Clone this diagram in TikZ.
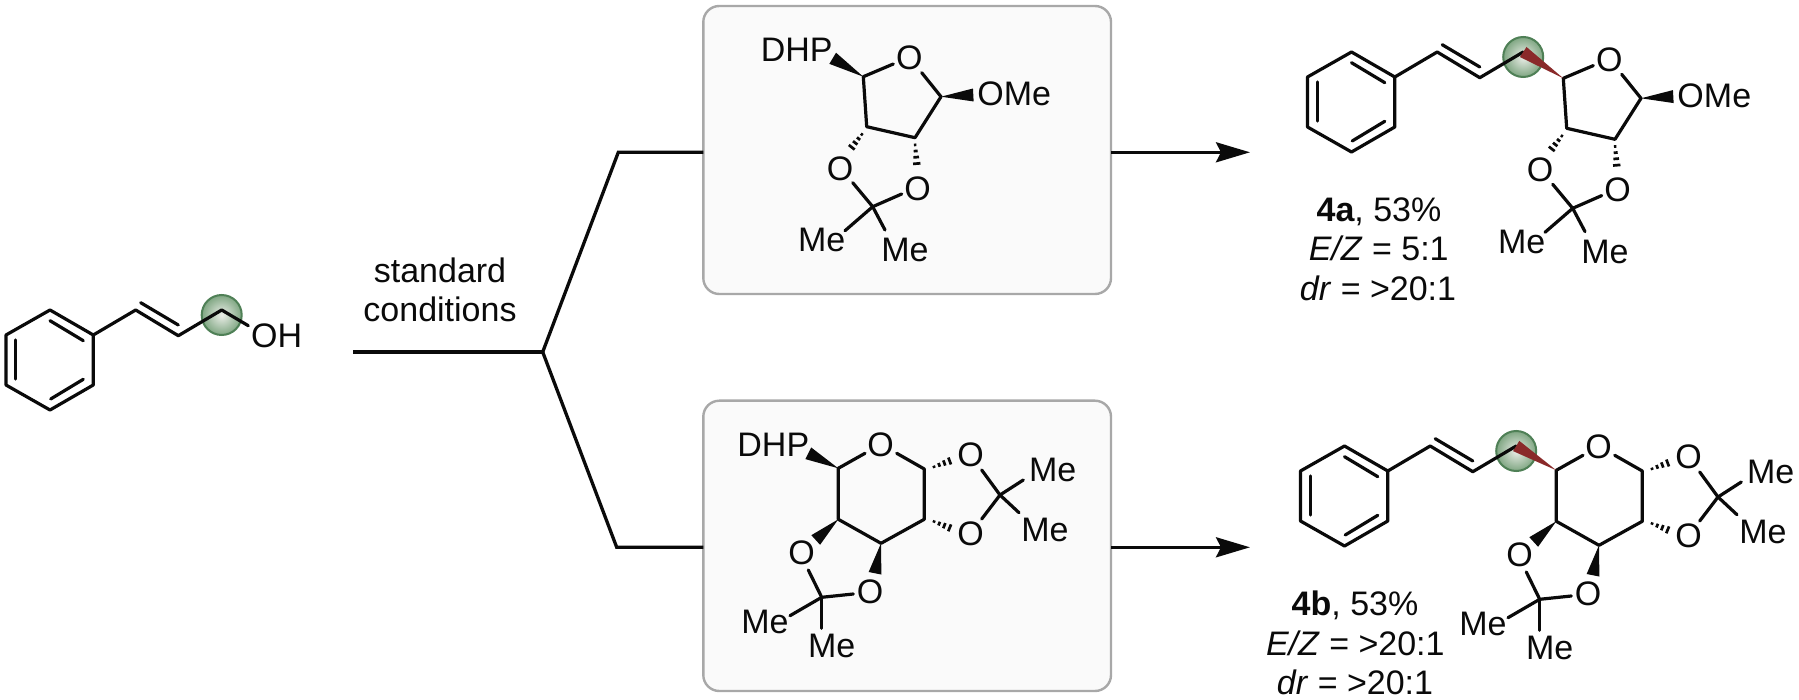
\documentclass[tikz,border=0pt]{standalone}
\usepackage{fontspec}
\setmainfont{Liberation Sans}
\usetikzlibrary{calc,arrows.meta,shadings}
\definecolor{ballin}{HTML}{EBEEE8}
\definecolor{ballout}{HTML}{7FA682}
\definecolor{ballrim}{HTML}{4F8056}
\definecolor{redbond}{HTML}{8A2A2A}
\definecolor{boxfill}{HTML}{FAFAFA}
\definecolor{boxline}{HTML}{A8A8A8}
\definecolor{ink}{HTML}{0A0A0A}
\tikzset{
  bond/.style={draw=ink,line width=3.2pt,line cap=round,line join=round},
  flow/.style={draw=ink,line width=3.3pt,line join=miter},
  atom/.style={inner sep=0pt,outer sep=0pt,text=ink,font=\fontsize{34}{39}\selectfont},
  caption/.style={inner sep=0pt,outer sep=0pt,text=ink,anchor=base,font=\fontsize{34}{39}\selectfont},
  panel/.style={draw=boxline,fill=boxfill,line width=2.4pt,rounded corners=16pt,inner sep=0pt,outer sep=0pt},
  site/.style={draw=ballrim,line width=2pt,inner color=ballin,outer color=ballout},
}
% wedge: narrow at #1, wide at #2, width #3, colour #4
\newcommand{\wedgeB}[4]{\fill[#4] (#1) -- ($(#2)!#3/2!90:(#1)$) -- ($(#2)!#3/2!-90:(#1)$) -- cycle;}
% hashed wedge: narrow at #1, wide at #2
\newcommand{\hashB}[2]{\foreach \t/\l in {0.06/1.2,0.29/2.0,0.52/2.8,0.76/3.7,1.0/4.6}{
  \draw[draw=ink,line width=2.7pt] ($(#1)!\t!(#2)!\l pt!90:(#2)$) -- ($(#1)!\t!(#2)!\l pt!-90:(#2)$);}}
% phenyl + E-alkene + CH2 with marked site
\newcommand{\styryl}{
  \shade[site] (221.7,315) circle (20);
  \coordinate (a1) at (50,310); \coordinate (a2) at (93.3,335); \coordinate (a3) at (93.3,385);
  \coordinate (a4) at (50,410); \coordinate (a5) at (6,385); \coordinate (a6) at (6,335);
  \coordinate (d1s) at (50,320.7); \coordinate (d1e) at (83.3,340.7);
  \coordinate (d2s) at (15.7,340); \coordinate (d2e) at (15.7,379);
  \coordinate (d3s) at (50.7,399); \coordinate (d3e) at (83.3,379.3);
  \coordinate (v1) at (135.7,310); \coordinate (v2) at (178.3,335.7);
  \coordinate (d4s) at (140.7,302.7); \coordinate (d4e) at (178.3,325);
  \coordinate (ch2) at (221.7,310);
  \draw[bond] (a1) -- (a2) -- (a3) -- (a4) -- (a5) -- (a6) -- cycle;
  \draw[bond] (d1s) -- (d1e);
  \draw[bond] (d2s) -- (d2e);
  \draw[bond] (d3s) -- (d3e);
  \draw[bond] (a2) -- (v1) -- (v2) -- (ch2);
  \draw[bond] (d4s) -- (d4e);
}
% furanose with acetonide; C1 left open for its substituent
\newcommand{\furan}{
  \coordinate (c1) at (863.3,76.7); \coordinate (c2) at (941,96.7);
  \coordinate (c3) at (915,137.7); \coordinate (c4) at (866.7,126.7);
  \coordinate (cq) at (872.7,206.7);
  \node[atom] (o) at (909.3,58.3) {O};
  \node[atom] (ol) at (840,168.3) {O};
  \node[atom] (or) at (917.7,188.3) {O};
  \node[atom] (ome) at (1014.3,94) {OMe};
  \node[atom] (me1) at (821.7,240) {Me};
  \node[atom] (me2) at (905,250) {Me};
  \coordinate (b1) at (893.3,64); \coordinate (b2) at (921.7,72.7);
  \coordinate (b3) at (852.7,182.7); \coordinate (b4) at (901.7,194);
  \coordinate (b5) at (845,230.7); \coordinate (b6) at (885,230);
  \coordinate (w1) at (973.3,95);
  \coordinate (h1s) at (862.7,133.3); \coordinate (h1e) at (848.3,151.7);
  \coordinate (h2s) at (915,143.3); \coordinate (h2e) at (917.3,170);
  \draw[bond] (b1) -- (c1) -- (c4) -- (c3) -- (c2) -- (b2);
  \draw[bond] (b3) -- (cq) -- (b4);
  \draw[bond] (cq) -- (b5);
  \draw[bond] (cq) -- (b6);
  \wedgeB{c2}{w1}{13pt}{ink}
  \hashB{h1s}{h1e}
  \hashB{h2s}{h2e}
}
% pyranose with two acetonides
\newcommand{\pyran}{
  \coordinate (c1) at (838.3,468.3); \coordinate (c5) at (924.3,469);
  \coordinate (c4) at (924.3,519.3); \coordinate (c3) at (881,543.3);
  \coordinate (c2) at (838.3,519.3);
  \coordinate (qr) at (1000,495); \coordinate (ql) at (821.7,597.3);
  \node[atom] (o) at (880.7,445) {O};
  \node[atom] (oa) at (970.7,454.3) {O};
  \node[atom] (ob) at (970.7,534) {O};
  \node[atom] (oc) at (801.7,552.3) {O};
  \node[atom] (od) at (870,591.7) {O};
  \node[atom] (me1) at (1052.7,470) {Me};
  \node[atom] (me2) at (1045,530) {Me};
  \node[atom] (me3) at (765,621.7) {Me};
  \node[atom] (me4) at (831.7,646) {Me};
  \coordinate (b1) at (865,453.3); \coordinate (b2) at (896.7,453.3);
  \coordinate (b3) at (981.7,470); \coordinate (b4) at (981.7,519);
  \coordinate (b5) at (1023.3,480); \coordinate (b6) at (1019,512.7);
  \coordinate (b7) at (808.3,570); \coordinate (b8) at (853.3,594);
  \coordinate (b9) at (790,615.7); \coordinate (b10) at (821.7,628.3);
  \coordinate (w1) at (815.7,540); \coordinate (w2) at (875,573.3);
  \coordinate (h1s) at (932.7,467.3); \coordinate (h1e) at (955,459);
  \coordinate (h2s) at (932.7,521); \coordinate (h2e) at (955,530);
  \draw[bond] (b1) -- (c1) -- (c2) -- (c3) -- (c4) -- (c5) -- (b2);
  \draw[bond] (b3) -- (qr) -- (b4);
  \draw[bond] (qr) -- (b5);
  \draw[bond] (qr) -- (b6);
  \draw[bond] (b7) -- (ql) -- (b8);
  \draw[bond] (ql) -- (b9);
  \draw[bond] (ql) -- (b10);
  \wedgeB{c2}{w1}{13pt}{ink}
  \wedgeB{c3}{w2}{13pt}{ink}
  \hashB{h1s}{h1e}
  \hashB{h2s}{h2e}
}
\begin{document}
\begin{tikzpicture}[x=1pt,y=-1pt]
\useasboundingbox (0,0) rectangle (1799,700);
\fill[white] (0,0) rectangle (1799,700);

% reactant
\begin{scope}[name prefix=r-]
  \styryl
  \node[atom] (oh) at (276.7,335.7) {OH};
  \coordinate (ohb) at (248.3,325.7);
  \draw[bond] (ch2) -- (ohb);
\end{scope}

% conditions and flow lines
\node[caption] (std) at (440,282.7) {standard};
\node[caption] (cond) at (440,321.7) {conditions};
\node[panel,minimum width=407.7pt,minimum height=288pt] (box1) at (907.15,150) {};
\node[panel,minimum width=407.7pt,minimum height=290.3pt] (box2) at (907.15,545.85) {};
\coordinate (start) at (353.3,352);
\coordinate (fork) at (542.7,352);
\coordinate (bend1) at (618.3,152.3);
\coordinate (bend2) at (616.7,547.3);
\coordinate (tip1) at (1250,152.3);
\coordinate (tip2) at (1250,547.3);
\draw[flow] (start) -- (fork);
\draw[flow] (fork) -- (bend1) -- (bend1 -| box1.west);
\draw[flow] (fork) -- (bend2) -- (bend2 -| box2.west);
\draw[flow,-{Stealth[length=34pt,width=20pt,inset=5pt]}] (tip1 -| box1.east) -- (tip1);
\draw[flow,-{Stealth[length=34pt,width=20pt,inset=5pt]}] (tip2 -| box2.east) -- (tip2);

% boxed donors
\begin{scope}[name prefix=f-]
  \furan
  \node[atom] (dhp) at (796.7,50) {DHP};
  \coordinate (wd) at (832.7,58.3);
  \wedgeB{c1}{wd}{13pt}{ink}
\end{scope}
\begin{scope}[name prefix=p-]
  \pyran
  \node[atom] (dhp) at (773.3,445) {DHP};
  \coordinate (wd) at (808.3,453.3);
  \wedgeB{c1}{wd}{13pt}{ink}
\end{scope}

% product 4a
\begin{scope}[shift={(1301.5,-258)},name prefix=sa-]
  \styryl
\end{scope}
\begin{scope}[shift={(700,1.6)},name prefix=pa-]
  \furan
\end{scope}
\wedgeB{pa-c1}{sa-ch2}{12pt}{redbond}
\node[caption] (a1) at (1379,221.7) {\textbf{4a}, 53\%};
\node[caption] (a2) at (1378.7,260.7) {\textit{E/Z} = 5:1};
\node[caption] (a3) at (1378,300.7) {\textit{dr} = >20:1};

% product 4b
\begin{scope}[shift={(1294.5,136)},name prefix=sb-]
  \styryl
\end{scope}
\begin{scope}[shift={(718,2)},name prefix=pb-]
  \pyran
\end{scope}
\wedgeB{pb-c1}{sb-ch2}{12pt}{redbond}
\node[caption] (b1) at (1355,615) {\textbf{4b}, 53\%};
\node[caption] (b2) at (1355.3,655) {\textit{E/Z} = >20:1};
\node[caption] (b3) at (1355,694) {\textit{dr} = >20:1};
\end{tikzpicture}
\end{document}
